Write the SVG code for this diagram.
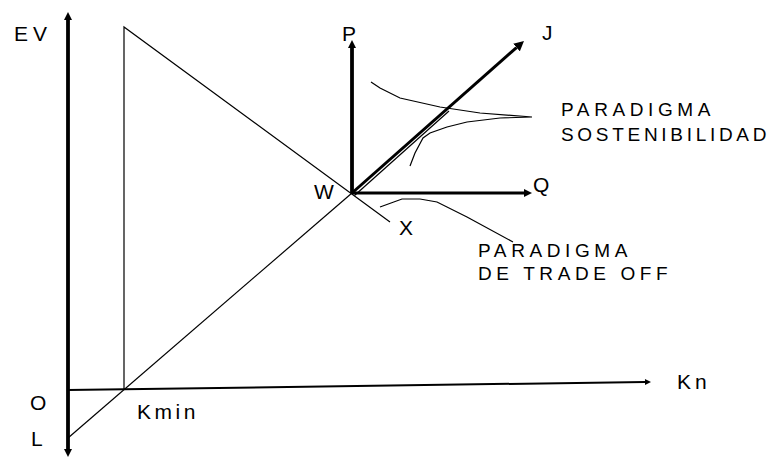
<svg xmlns="http://www.w3.org/2000/svg" width="781" height="458" viewBox="0 0 781 458">
<style>
.lbl{font-family:"Liberation Sans",Arial,sans-serif;font-size:21px;fill:#000}
.par{font-family:"Liberation Sans",Arial,sans-serif;font-size:19px;fill:#000;letter-spacing:4.6px}
.thin{stroke:#000;stroke-width:1.2;fill:none}
.thick{stroke:#000;fill:none}
</style>
<defs>
<marker id="aBig" markerUnits="userSpaceOnUse" viewBox="0 0 10 10" markerWidth="8" markerHeight="12" refX="0" refY="5" orient="auto-start-reverse"><path d="M0,0 L10,5 L0,10 z" fill="#000"/></marker>
<marker id="aJ" markerUnits="userSpaceOnUse" viewBox="0 0 10 10" markerWidth="10" markerHeight="11" refX="0" refY="5" orient="auto"><path d="M0,0 L10,5 L0,10 z" fill="#000"/></marker>
<marker id="aQ" markerUnits="userSpaceOnUse" viewBox="0 0 10 10" markerWidth="9" markerHeight="8" refX="0" refY="5" orient="auto"><path d="M0,0 L10,5 L0,10 z" fill="#000"/></marker>
<marker id="aKn" markerUnits="userSpaceOnUse" viewBox="0 0 10 10" markerWidth="13" markerHeight="6" refX="0" refY="5" orient="auto"><path d="M0,0 L10,5 L0,10 z" fill="#000"/></marker>
</defs>
<rect width="781" height="458" fill="#fff"/>
<g id="connectors">
<line id="axis-ev" class="thick" x1="68" y1="20" x2="68" y2="449" stroke-width="3.8" marker-start="url(#aBig)" marker-end="url(#aBig)"/>
<line id="axis-kn" class="thick" x1="68" y1="390" x2="645" y2="382" stroke-width="2" marker-end="url(#aKn)"/>
<polyline id="triangle" class="thin" points="124,389 124,27 390,222"/>
<line id="line-lw" class="thin" x1="68" y1="438" x2="352" y2="193"/>
<line id="axis-p" class="thick" x1="352" y1="193" x2="352" y2="48" stroke-width="3.8" marker-end="url(#aBig)"/>
<line id="axis-q" class="thick" x1="352" y1="193" x2="524" y2="193" stroke-width="3.2" marker-end="url(#aQ)"/>
<line id="axis-j" class="thick" x1="352" y1="193" x2="516.5" y2="47.6" stroke-width="3" marker-end="url(#aJ)"/>
<line id="axis-j2" class="thin" x1="354.5" y1="195.5" x2="449" y2="111" stroke-width="1"/>
<polyline id="curve-sost" class="thin" points="371,82 380,88 400,98 440,107 480,113 532,117 500,118 467,122 447,127 430,133 423,138 415,153 410,166"/>
<polyline id="curve-trade" class="thin" points="380,207 402,199 420,199 437,202 467,217 513,242"/>
</g>
<g id="node-ev"><text class="lbl" x="14" y="41" letter-spacing="5">EV</text></g>
<g id="node-o"><text class="lbl" x="30" y="410">O</text></g>
<g id="node-l"><text class="lbl" x="31" y="446">L</text></g>
<g id="node-kmin"><text class="lbl" x="137" y="419" letter-spacing="3.5">Kmin</text></g>
<g id="node-kn"><text class="lbl" x="677" y="389" letter-spacing="4">Kn</text></g>
<g id="node-w"><text class="lbl" x="314" y="199">W</text></g>
<g id="node-x"><text class="lbl" x="399" y="235">X</text></g>
<g id="node-p"><text class="lbl" x="342" y="41">P</text></g>
<g id="node-j"><text class="lbl" x="542" y="40">J</text></g>
<g id="node-q"><text class="lbl" x="533" y="192">Q</text></g>
<g id="node-sost"><text class="par" x="561" y="116">PARADIGMA</text><text class="par" x="561" y="141" letter-spacing="0" textLength="210" lengthAdjust="spacing">SOSTENIBILIDAD</text></g>
<g id="node-trade"><text class="par" x="478" y="257">PARADIGMA</text><text class="par" x="478" y="280">DE TRADE OFF</text></g>
</svg>
